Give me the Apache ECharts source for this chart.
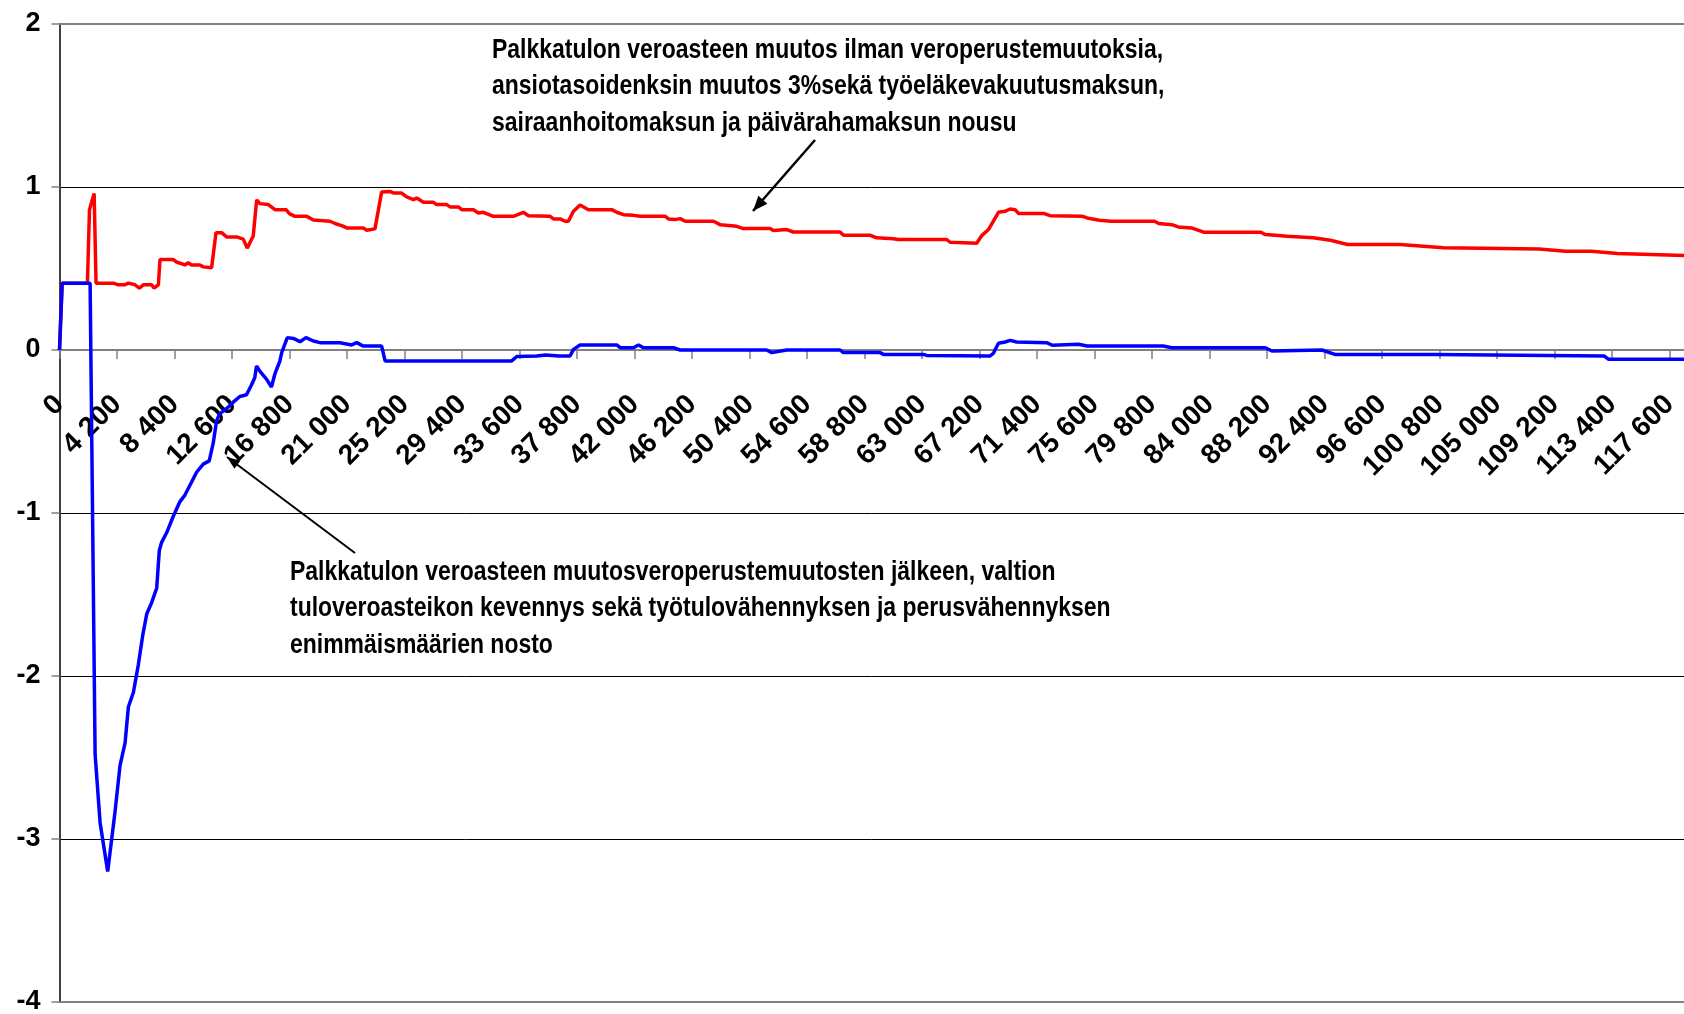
<!DOCTYPE html>
<html>
<head>
<meta charset="utf-8">
<script src="https://cdn.jsdelivr.net/npm/echarts@6/dist/echarts.min.js"></script>
<style>
html,body{margin:0;padding:0;background:#fff;}
#chart{width:1684px;height:1014px;}
</style>
</head>
<body>
<div id="chart"></div>
<script>
// ---- data ----
const incomeRed = [0,194,2040,2190,2530,2670,3940,4300,4790,5030,5520,5830,6120,6730,6900,7220,7340,8310,8550,9160,9400,9650,10250,10500,11110,11430,11840,12200,12940,13420,13710,14150,14400,14640,15250,15740,16550,16790,17200,18060,18540,19760,20120,20610,20980,22190,22440,23040,23530,24140,24390,24990,25360,25850,26090,26580,27310,27550,28280,28530,29130,29380,30230,30600,30960,31690,33150,33880,34250,35830,36080,36560,36930,37170,37540,38020,38630,40340,40700,41190,41920,42410,44240,44480,44970,45330,45700,47760,48250,49470,49950,51900,52140,53120,53600,57010,57260,59200,59690,60910,61270,64800,65050,66990,67360,67850,68580,69060,69430,69790,70040,71880,72350,74740,75050,75960,76800,79970,80290,81240,81720,82670,83620,87750,88070,89020,89660,91560,92830,93780,94100,97910,101090,108070,109980,111880,113790,118650];
const rateRed = [0,0.41,0.41,0.86,0.96,0.41,0.41,0.40,0.40,0.41,0.40,0.38,0.40,0.40,0.38,0.40,0.555,0.555,0.54,0.522,0.535,0.522,0.522,0.51,0.505,0.72,0.72,0.694,0.694,0.68,0.625,0.70,0.92,0.898,0.892,0.861,0.861,0.837,0.82,0.82,0.798,0.79,0.776,0.763,0.749,0.749,0.735,0.743,0.97,0.973,0.963,0.963,0.939,0.922,0.933,0.906,0.906,0.892,0.892,0.878,0.878,0.861,0.861,0.841,0.845,0.82,0.82,0.845,0.824,0.82,0.804,0.804,0.79,0.79,0.851,0.89,0.861,0.861,0.845,0.83,0.826,0.82,0.82,0.804,0.80,0.806,0.79,0.79,0.769,0.759,0.745,0.745,0.733,0.739,0.724,0.724,0.704,0.704,0.688,0.682,0.678,0.678,0.661,0.655,0.702,0.739,0.845,0.851,0.865,0.861,0.838,0.838,0.824,0.82,0.81,0.796,0.79,0.79,0.776,0.769,0.755,0.749,0.722,0.722,0.708,0.702,0.698,0.688,0.673,0.653,0.647,0.647,0.627,0.62,0.606,0.606,0.592,0.58];

const incomeBlue = [0,194,2236,2600,2965,3520,4060,4420,4790,5030,5400,5760,6080,6370,6730,7100,7290,7460,7830,8310,8800,9160,9650,10010,10500,10935,11230,11470,11710,12200,12690,13170,13660,14020,14260,14390,14630,15130,15480,15720,15860,16090,16230,16640,17080,17570,18000,18540,19030,20490,21340,21710,22190,23530,23780,33030,33400,34860,35500,36500,37290,37540,38020,40700,40950,41920,42290,42650,44840,45330,51650,52020,53120,57010,57250,59930,60180,63100,63340,67970,68210,68580,69060,69430,69910,72100,72510,74420,75050,80610,81240,88070,88550,92200,93150,100450,112830,113150,118650];
const rateBlue = [0,0.41,0.41,-2.48,-2.90,-3.20,-2.83,-2.55,-2.41,-2.19,-2.10,-1.93,-1.75,-1.62,-1.55,-1.46,-1.23,-1.18,-1.12,-1.02,-0.93,-0.89,-0.81,-0.75,-0.70,-0.68,-0.57,-0.435,-0.39,-0.36,-0.32,-0.285,-0.275,-0.215,-0.17,-0.098,-0.13,-0.18,-0.227,-0.15,-0.118,-0.07,-0.016,0.076,0.071,0.051,0.076,0.055,0.045,0.045,0.031,0.045,0.024,0.024,-0.067,-0.067,-0.04,-0.037,-0.03,-0.037,-0.037,0.004,0.031,0.031,0.014,0.014,0.031,0.014,0.014,0.0,0.0,-0.016,0.0,0.0,-0.016,-0.016,-0.027,-0.027,-0.033,-0.037,-0.02,0.041,0.049,0.059,0.049,0.045,0.029,0.035,0.024,0.024,0.014,0.014,-0.006,0.0,-0.027,-0.027,-0.037,-0.057,-0.057];

const xTickStep = 4200;
const xMax = 118650;
const yMin = -4, yMax = 2, yStep = 1;

const topNote = 'Palkkatulon veroasteen muutos ilman veroperustemuutoksia,\nansiotasoidenksin muutos 3%sekä työeläkevakuutusmaksun,\nsairaanhoitomaksun ja päivärahamaksun nousu';
const bottomNote = 'Palkkatulon veroasteen muutosveroperustemuutosten jälkeen, valtion\ntuloveroasteikon kevennys sekä työtulovähennyksen ja perusvähennyksen\nenimmäismäärien nosto';

// ---- layout ----
const GRID_TOP = 24, GRID_BOTTOM = 12, CHART_H = 1014;
const plotH = CHART_H - GRID_TOP - GRID_BOTTOM;
const zeroFromBottom = plotH * (0 - yMin) / (yMax - yMin); // distance of the 0-line above the plot bottom

function fmtThousands(v){
  const s = String(Math.round(v));
  return s.replace(/\B(?=(\d{3})+(?!\d))/g, ' ');
}
function arrowHead(tip, from, len, half){
  const dx = tip[0]-from[0], dy = tip[1]-from[1];
  const d = Math.sqrt(dx*dx+dy*dy); const ux = dx/d, uy = dy/d;
  const bx = tip[0]-ux*len, by = tip[1]-uy*len;
  return [[tip[0],tip[1]],[bx-uy*half, by+ux*half],[bx+uy*half, by-ux*half]];
}
const FONT = '"Liberation Sans", Arial, sans-serif';
const chart = echarts.init(document.getElementById('chart'), null, {renderer:'canvas'});
const topFrom=[815,140], topTip=[753,211];
const botFrom=[355,553], botTip=[227,457];
chart.setOption({
  animation:false,
  backgroundColor:'#ffffff',
  grid:{left:59.5, right:0, top:GRID_TOP, bottom:GRID_BOTTOM, containLabel:false, outerBoundsMode:'none'},
  xAxis:{
    type:'value', min:0, max:xMax, interval:xTickStep,
    position:'bottom', offset:-zeroFromBottom,
    axisLine:{onZero:false, lineStyle:{color:'#808080', width:2}},
    axisTick:{length:9, lineStyle:{color:'#808080', width:1.5}},
    splitLine:{show:false},
    axisLabel:{
      rotate:45, margin:50, color:'#000', fontWeight:'bold', fontSize:28, fontFamily:FONT,
      showMaxLabel:false, hideOverlap:false,
      formatter:function(v){ return (v % xTickStep === 0) ? fmtThousands(v) : ''; }
    }
  },
  yAxis:{
    type:'value', min:yMin, max:yMax, interval:yStep,
    axisLine:{show:true, onZero:false, lineStyle:{color:'#404040', width:2}},
    axisTick:{show:true, length:8, lineStyle:{color:'#808080', width:1.5}},
    splitLine:{show:true, lineStyle:{color:'#000', width:1}},
    axisLabel:{color:'#000', fontWeight:'bold', fontSize:27, fontFamily:FONT, margin:19}
  },
  series:[
    {
      type:'line', data:incomeRed.map((x,i)=>[x, rateRed[i]]),
      showSymbol:false, symbol:'none',
      lineStyle:{color:'#ff0000', width:3.5}, itemStyle:{color:'#ff0000'},
      markLine:{silent:true, symbol:'none', label:{show:false},
        lineStyle:{color:'#808080', width:2, type:'solid'},
        data:[{yAxis:yMax},{yAxis:yMin}]}
    },
    {
      type:'line', data:incomeBlue.map((x,i)=>[x, rateBlue[i]]),
      showSymbol:false, symbol:'none',
      lineStyle:{color:'#0000ff', width:3.5}, itemStyle:{color:'#0000ff'}
    }
  ],
  graphic:[
    {type:'text', x:492, y:32, scaleX:0.82, z:100,
      style:{text:topNote, font:'bold 28px '+FONT, fill:'#000', lineHeight:36.5, verticalAlign:'top'}},
    {type:'text', x:290, y:554, scaleX:0.82, z:100,
      style:{text:bottomNote, font:'bold 28px '+FONT, fill:'#000', lineHeight:36.5, verticalAlign:'top'}},
    {type:'line', z:100, shape:{x1:topFrom[0], y1:topFrom[1], x2:topTip[0], y2:topTip[1]}, style:{stroke:'#000', lineWidth:2.5}},
    {type:'polygon', z:100, shape:{points:arrowHead(topTip, topFrom, 15, 6)}, style:{fill:'#000'}},
    {type:'line', z:100, shape:{x1:botFrom[0], y1:botFrom[1], x2:botTip[0], y2:botTip[1]}, style:{stroke:'#000', lineWidth:2}},
    {type:'polygon', z:100, shape:{points:arrowHead(botTip, botFrom, 13, 5)}, style:{fill:'#000'}}
  ]
});
</script>
</body>
</html>
